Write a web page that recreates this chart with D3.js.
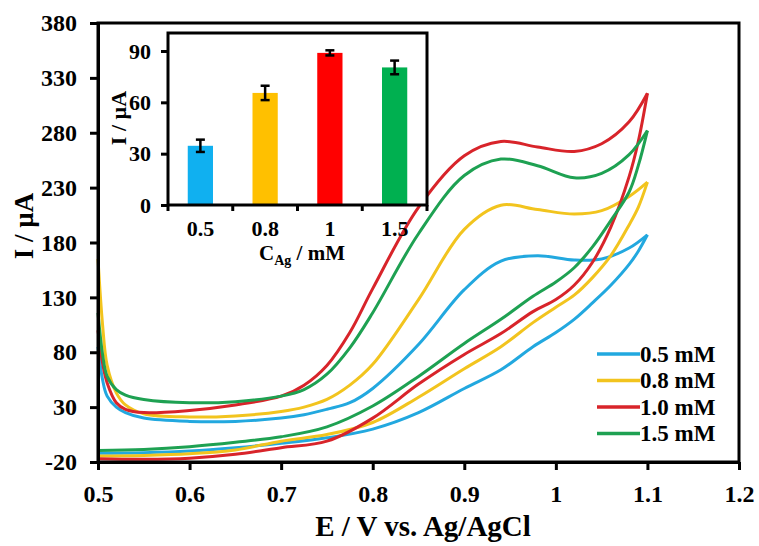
<!DOCTYPE html>
<meta charset="utf-8">
<title>CV Ag</title>
<style>
body { margin: 0; background: #fff; }
svg { display: block; font-family: "Liberation Serif", "Times New Roman", serif; font-weight: bold; }
</style>
<svg width="759" height="546"></svg>
<script src="https://cdnjs.cloudflare.com/ajax/libs/d3/7.8.5/d3.min.js"></script>
<script>
// potential (V) for forward and reverse scan
var eFwd = [0.5, 0.505, 0.51, 0.52, 0.53, 0.55, 0.6, 0.65, 0.7, 0.725, 0.75, 0.775, 0.8, 0.85, 0.9, 0.94, 0.98, 1.02, 1.05, 1.08, 1.1]
var eRev = [1.1, 1.09, 1.08, 1.06, 1.04, 1.02, 1.0, 0.975, 0.94, 0.9, 0.85, 0.8, 0.75, 0.7, 0.65, 0.6, 0.55, 0.5]

// current (uA), one array per concentration and branch
var fwd05 = [85, 55, 40, 30, 25, 20, 17, 17, 20, 23, 28, 34, 47, 87, 137, 163, 168, 164, 165, 175, 187]
var rev05 = [187, 172, 160, 141, 125, 110, 98, 85, 64, 47, 25, 10, 2, -3, -7, -10, -11.5, -12]
var fwd08 = [165, 105, 68, 43, 32, 24, 21, 22, 26, 30, 37, 50, 69, 128, 192, 214, 210, 206, 209, 222, 235]
var rev08 = [235, 212, 196, 168, 148, 132, 121, 107, 85, 65, 39, 16, 5, -1, -9, -12.5, -14, -14.5]
var fwd10 = [100, 70, 52, 34, 28, 25, 27, 32, 40, 50, 68, 98, 138, 212, 259, 272, 267, 263, 270, 290, 316]
var rev10 = [316, 272, 240, 194, 162, 141, 128, 117, 97, 78, 51, 20, -1, -7, -13, -16.5, -17.5, -17]
var fwd15 = [116, 78, 58, 46, 41, 37, 34, 35, 40, 46, 60, 84, 116, 188, 241, 256, 250, 239, 243, 260, 282]
var rev15 = [282, 250, 226, 200, 176, 157, 144, 131, 110, 88, 58, 31, 12, 3, -2, -6, -8.5, -9.5]

var seriesNames = ["0.5 mM", "0.8 mM", "1.0 mM", "1.5 mM"]
var seriesColors = ["#22a8df", "#f2c41e", "#d8242a", "#1ea152"]

// inset bar data
var insetCats = ["0.5", "0.8", "1", "1.5"]
var insetVals = [34.6, 65.5, 88.9, 80.4]
var insetErr = [3.6, 4.2, 1.5, 4.0]
var insetColors = ["#10b0f0", "#ffc000", "#ff0000", "#00b050"]

var yTicks = [-20, 30, 80, 130, 180, 230, 280, 330, 380]
var xTicks = [0.5, 0.6, 0.7, 0.8, 0.9, 1.0, 1.1, 1.2]
var insetYTicks = [0, 30, 60, 90]

var svg = d3.select("svg")

var x = d3.scaleLinear().domain([0.5, 1.2]).range([98, 739])
var y = d3.scaleLinear().domain([-20, 380]).range([462, 23])

var curves = [[fwd05, rev05], [fwd08, rev08], [fwd10, rev10], [fwd15, rev15]]

var line = d3.line()
  .x(function(d) { return x(d[0]) })
  .y(function(d) { return y(d[1]) })
  .curve(d3.curveCatmullRom.alpha(0.5))

var g = svg.append("g")
curves.forEach(function(c, k) {
  var up = eFwd.map(function(e, i) { return [e, c[0][i]] })
  var down = eRev.map(function(e, i) { return [e, c[1][i]] })
  ;[up, down].forEach(function(pts) {
    g.append("path")
      .attr("d", line(pts))
      .attr("fill", "none")
      .attr("stroke", seriesColors[k])
      .attr("stroke-width", 3)
      .attr("stroke-linejoin", "round")
  })
})

// frame
svg.append("rect")
  .attr("x", 98).attr("y", 23).attr("width", 739 - 98).attr("height", 462 - 23)
  .attr("fill", "none").attr("stroke", "#000").attr("stroke-width", 3)

var yAxis = svg.append("g")
  .attr("transform", "translate(98,0)")
  .call(d3.axisLeft(y).tickValues(yTicks).tickSize(8).tickSizeOuter(0).tickPadding(13)
    .tickFormat(function(d) { return String(d) }))
var xAxis = svg.append("g")
  .attr("transform", "translate(0,462)")
  .call(d3.axisBottom(x).tickValues(xTicks).tickSize(8).tickSizeOuter(0).tickPadding(15)
    .tickFormat(function(d) { return String(+d.toFixed(1)) }))

;[yAxis, xAxis].forEach(function(a) {
  a.select(".domain").attr("stroke-width", 3)
  a.selectAll(".tick line").attr("stroke-width", 3)
  a.selectAll("text").attr("font-size", 24).attr("font-family", "Liberation Serif").attr("font-weight", "bold").attr("fill", "#000")
})

svg.append("text")
  .attr("transform", "translate(33,226) rotate(-90)")
  .attr("text-anchor", "middle")
  .attr("font-size", 27)
  .text("I / µA")

svg.append("text")
  .attr("x", 423).attr("y", 536)
  .attr("text-anchor", "middle")
  .attr("font-size", 29)
  .text("E / V vs. Ag/AgCl")

// legend
var legend = svg.append("g")
seriesNames.forEach(function(name, i) {
  var ly = 354 + i * 26.5
  legend.append("line")
    .attr("x1", 597).attr("x2", 640).attr("y1", ly).attr("y2", ly)
    .attr("stroke", seriesColors[i]).attr("stroke-width", 3.5)
  legend.append("text")
    .attr("x", 640).attr("y", ly + 7.5)
    .attr("font-size", 23)
    .text(name)
})

// inset
var xi = d3.scaleBand().domain(insetCats).range([168, 427]).paddingInner(0.61).paddingOuter(0.305)
var yi = d3.scaleLinear().domain([0, 90]).range([205, 51])

var inset = svg.append("g")
inset.append("rect")
  .attr("x", 168).attr("y", 33).attr("width", 427 - 168).attr("height", 205 - 33)
  .attr("fill", "#fff")

inset.selectAll(".bar").data(insetVals).enter().append("rect")
  .attr("x", function(d, i) { return xi(insetCats[i]) })
  .attr("y", function(d) { return yi(d) })
  .attr("width", xi.bandwidth())
  .attr("height", function(d) { return yi(0) - yi(d) })
  .attr("fill", function(d, i) { return insetColors[i] })

insetVals.forEach(function(v, i) {
  var cx = xi(insetCats[i]) + xi.bandwidth() / 2
  var eb = inset.append("g").attr("stroke", "#000").attr("stroke-width", 2.5)
  eb.append("line").attr("x1", cx).attr("x2", cx).attr("y1", yi(v - insetErr[i])).attr("y2", yi(v + insetErr[i]))
  eb.append("line").attr("x1", cx - 4.5).attr("x2", cx + 4.5).attr("y1", yi(v - insetErr[i])).attr("y2", yi(v - insetErr[i]))
  eb.append("line").attr("x1", cx - 4.5).attr("x2", cx + 4.5).attr("y1", yi(v + insetErr[i])).attr("y2", yi(v + insetErr[i]))
})

inset.append("rect")
  .attr("x", 168).attr("y", 33).attr("width", 427 - 168).attr("height", 205 - 33)
  .attr("fill", "none").attr("stroke", "#000").attr("stroke-width", 3)

var yiAxis = inset.append("g")
  .attr("transform", "translate(168,0)")
  .call(d3.axisLeft(yi).tickValues(insetYTicks).tickSize(7).tickSizeOuter(0).tickPadding(10))
yiAxis.select(".domain").remove()

// category boundary ticks on the inset x axis
var step = xi.step()
var bTicks = d3.range(insetCats.length + 1).map(function(i) { return 168 + i * step })
inset.selectAll(".btick").data(bTicks).enter().append("line")
  .attr("x1", function(d) { return d }).attr("x2", function(d) { return d })
  .attr("y1", 205).attr("y2", 211)
  .attr("stroke", "#000").attr("stroke-width", 3)

inset.selectAll(".cat").data(insetCats).enter().append("text")
  .attr("x", function(d) { return xi(d) + xi.bandwidth() / 2 })
  .attr("y", 236)
  .attr("text-anchor", "middle")
  .attr("font-size", 22)
  .text(function(d) { return d })

yiAxis.selectAll(".tick line").attr("stroke-width", 3)
yiAxis.selectAll("text").attr("font-size", 22).attr("font-family", "Liberation Serif").attr("font-weight", "bold").attr("fill", "#000")

inset.append("text")
  .attr("transform", "translate(126,118) rotate(-90)")
  .attr("text-anchor", "middle")
  .attr("font-size", 22)
  .text("I / µA")

var xt = inset.append("text")
  .attr("x", 302).attr("y", 260)
  .attr("text-anchor", "middle")
  .attr("font-size", 21)
xt.append("tspan").text("C")
xt.append("tspan").attr("font-size", 14).attr("dy", 5).text("Ag")
xt.append("tspan").attr("dy", -5).text(" / mM")
</script>
